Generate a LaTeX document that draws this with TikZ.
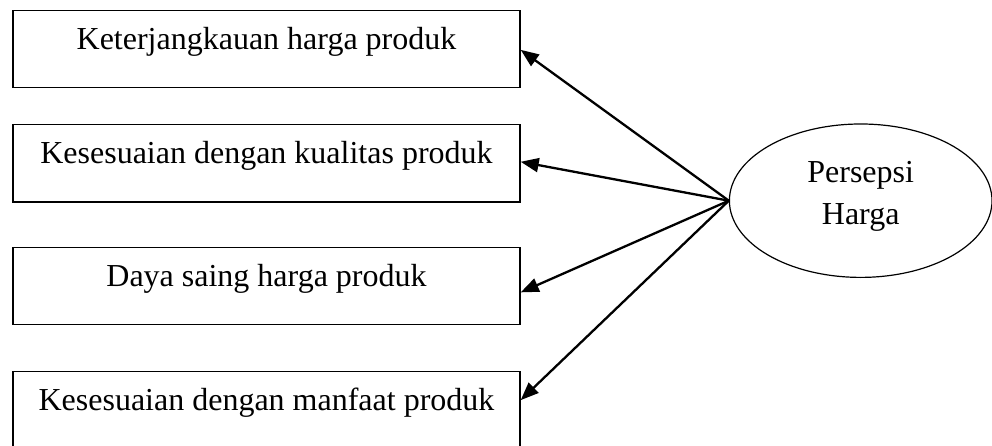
\documentclass[tikz,border=0pt]{standalone}
\usepackage{fontspec}
\setmainfont{Liberation Serif}
\usetikzlibrary{arrows.meta,calc,shapes.geometric}
\tikzset{
  ind/.style={draw, line width=1.4pt, rectangle, minimum width=507pt, inner xsep=0pt, inner ysep=0pt,
    text height=39pt, text depth=38.3pt, anchor=north west, font=\fontsize{32}{42.3}\selectfont},
  lat/.style={draw, line width=1.2pt, ellipse, minimum width=262.6pt, minimum height=153.4pt, inner sep=0pt,
    align=center, text depth=15.6pt, font=\fontsize{32}{42.3}\selectfont},
  arr/.style={line width=2.3pt, -{Triangle[length=18pt,width=14pt]}}
}
\begin{document}
\begin{tikzpicture}[x=1pt,y=-1pt]
\clip (0,0) rectangle (992,446);
\node[ind] (b1) at (12.3,9.7) {Keterjangkauan harga produk};
\node[ind] (b2) at (12.3,124) {Kesesuaian dengan kualitas produk};
\node[ind] (b3) at (12.3,246.7) {Daya saing harga produk};
\node[ind] (b4) at (12.3,371) {Kesesuaian dengan manfaat produk};
\node[lat] (p) at (860.7,200.7) {Persepsi\\Harga};
\coordinate (t1) at ($(b1.north east)!0.51!(b1.south east)$);
\coordinate (t2) at ($(b2.north east)!0.48!(b2.south east)$);
\coordinate (t3) at ($(b3.north east)!0.58!(b3.south east)$);
\coordinate (t4) at ($(b4.north east)!0.37!(b4.south east)$);
\draw[arr] (p.west) -- (t1);
\draw[arr] (p.west) -- (t2);
\draw[arr] (p.west) -- (t3);
\draw[arr] (p.west) -- (t4);
\end{tikzpicture}
\end{document}
